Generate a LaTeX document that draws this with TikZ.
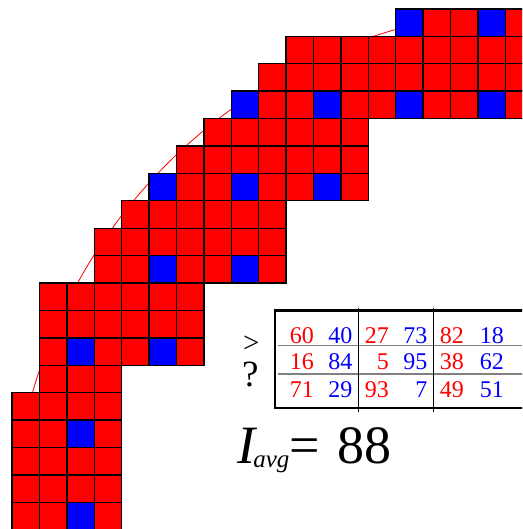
\documentclass[tikz,border=0pt]{standalone}
\usepackage{fontspec}
\setmainfont{Liberation Serif}
\usepackage{tikz}
\usetikzlibrary{positioning}

\begin{document}
\begin{tikzpicture}[x=1pt, y=-1pt,
    cellbox/.style={draw=black, line width=1.4pt},
    numtext/.style={anchor=base east, inner sep=0pt, font=\fontsize{24}{28}\selectfont},
    rednum/.style={numtext, red},
    bluenum/.style={numtext, blue},
    bigtext/.style={anchor=base west, inner sep=0pt, font=\fontsize{54}{60}\selectfont}]
    % fixed frame of the picture
    \useasboundingbox (0,0) rectangle (522,529);
    \clip (0,0) rectangle (522,529);

    % circle behind the pixels
    \draw[red, line width=0.8pt] (540,537) circle[radius=527.5pt];

    % pixel band: row / first column / last column
    % blue pixel on every third row and every third column
    \begin{scope}[shift={(12,9)}, x=27.4pt, y=-27.4pt]
    \foreach \r/\cfrom/\cto in {0/14/18, 1/10/18, 2/9/18, 3/8/18, 4/7/12, 5/6/12,
        6/5/12, 7/4/9, 8/3/9, 9/3/9, 10/1/6, 11/1/6, 12/1/6, 13/1/3,
        14/0/3, 15/0/3, 16/0/3, 17/0/3, 18/0/3}{
        \foreach \c in {\cfrom,...,\cto}{
            \pgfmathtruncatemacro{\isblue}{(mod(\c,3)==2)*(mod(\r,3)==0)}
            \ifnum\isblue=1 \def\pixcol{blue}\else\def\pixcol{red}\fi
            \filldraw[cellbox, fill=\pixcol] (\c,\r) rectangle ++(1,1);
        }
    }
    \end{scope}

    % comparison table
    \draw[line width=2.5pt] (275,310.5) rectangle (560,408);
    \draw[gray, line width=1.2pt] (278,345.5) -- (560,345.5);
    \draw[gray, line width=1.2pt] (278,374) -- (560,374);
    \draw[line width=0.9pt] (358.3,307.5) -- (358.3,411.7);
    \draw[line width=0.9pt] (433.3,307.5) -- (433.3,411.7);

    % table entries: baseline / pairs
    \foreach \y/\va/\vb/\vc/\vd/\ve/\vf [count=\i] in {343/60/40/27/73/82/18,
        369.5/16/84/5/95/38/62, 397/71/29/93/7/49/51}{
        \node[rednum] (ra\i) at (314,\y) {\va};
        \node[bluenum] (ba\i) at (352.5,\y) {\vb};
        \node[rednum] (rb\i) at (389,\y) {\vc};
        \node[bluenum] (bb\i) at (427.5,\y) {\vd};
        \node[rednum] (rc\i) at (464,\y) {\ve};
        \node[bluenum] (bc\i) at (504,\y) {\vf};
    }

    % comparison mark
    \node[inner sep=0pt, font=\fontsize{29}{32}\selectfont] (gtsign) at (251.3,344.2) {>};
    \node[inner sep=0pt, anchor=base, font=\fontsize{37}{42}\selectfont] (qmark) at (250.3,386.7) {?};

    % average intensity
    \node[bigtext] (iavg) at (237,463.3)
        {\textit{I}\kern-4pt\raisebox{-4pt}{\fontsize{25}{28}\selectfont\textit{avg}}=};
    \node[bigtext] (iavgval) at (337,463.3) {88};
\end{tikzpicture}
\end{document}
